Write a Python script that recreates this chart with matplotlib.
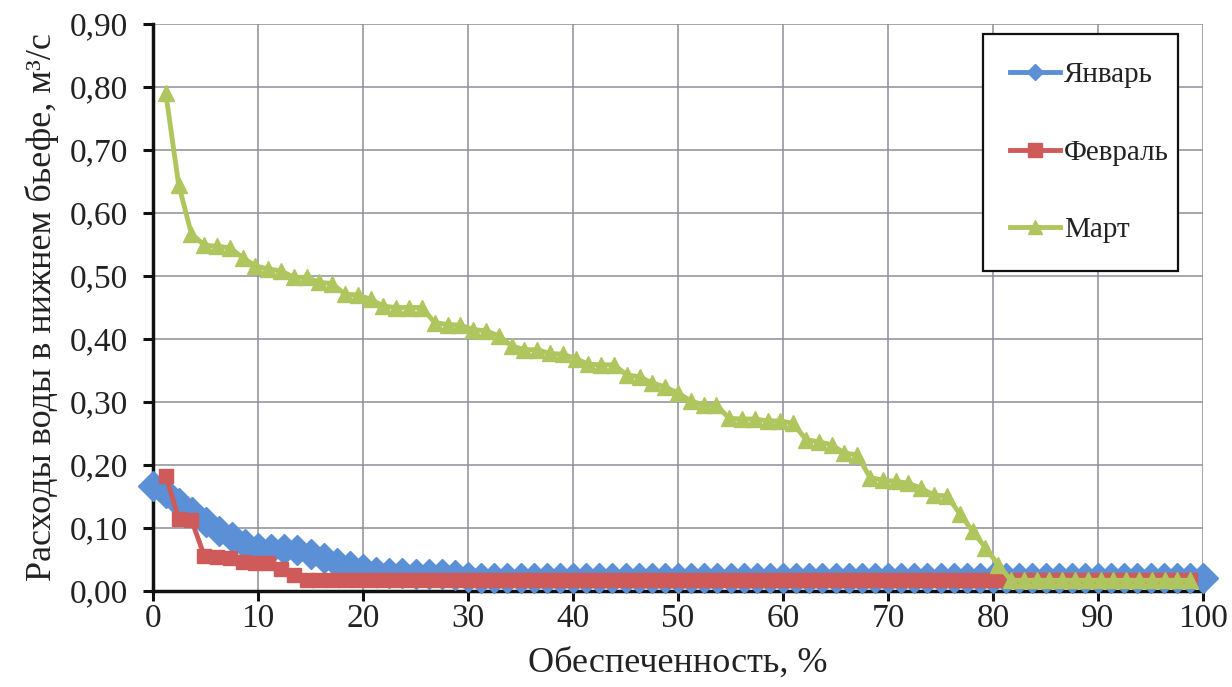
import matplotlib
matplotlib.use("Agg")
import matplotlib.pyplot as plt
from matplotlib.lines import Line2D

plt.rcParams['font.family'] = ['Liberation Serif', 'DejaVu Serif']

# --- data ---
jan_x = [0, 1.25, 2.5, 3.75, 5, 6.25, 7.5, 8.75, 10, 11.25, 12.5, 13.75, 15, 16.25,
         17.5, 18.75, 20, 21.25, 22.5, 23.75, 25, 26.25, 27.5, 28.75, 30, 31.25, 32.5,
         33.75, 35, 36.25, 37.5, 38.75, 40, 41.25, 42.5, 43.75, 45, 46.25, 47.5, 48.75,
         50, 51.25, 52.5, 53.75, 55, 56.25, 57.5, 58.75, 60, 61.25, 62.5, 63.75, 65,
         66.25, 67.5, 68.75, 70, 71.25, 72.5, 73.75, 75, 76.25, 77.5, 78.75, 80, 81.25,
         82.5, 83.75, 85, 86.25, 87.5, 88.75, 90, 91.25, 92.5, 93.75, 95, 96.25, 97.5,
         98.75, 100]
jan_y = [0.166, 0.155, 0.140, 0.125, 0.110, 0.095, 0.085, 0.075, 0.068, 0.066, 0.066,
         0.065, 0.058, 0.052, 0.045, 0.040, 0.035, 0.030, 0.028, 0.028, 0.027, 0.027,
         0.027, 0.026, 0.022,
         0.020, 0.020, 0.020, 0.020, 0.020, 0.020, 0.020, 0.020, 0.020, 0.020, 0.020,
         0.020, 0.020, 0.020, 0.020, 0.020, 0.020, 0.020, 0.020, 0.020, 0.020, 0.020,
         0.020, 0.020, 0.020, 0.020, 0.020, 0.020, 0.020, 0.020, 0.020, 0.020, 0.020,
         0.020, 0.020, 0.020, 0.020, 0.020, 0.020, 0.020, 0.020, 0.020, 0.020, 0.020,
         0.020, 0.020, 0.020, 0.020, 0.020, 0.020, 0.020, 0.020, 0.020, 0.020, 0.020,
         0.020]

fm_x = [1.22, 2.44, 3.66, 4.88, 6.10, 7.32, 8.54, 9.76, 10.98, 12.20, 13.41, 14.63,
        15.85, 17.07, 18.29, 19.51, 20.73, 21.95, 23.17, 24.39, 25.61, 26.83, 28.05,
        29.27, 30.49, 31.71, 32.93, 34.15, 35.37, 36.59, 37.80, 39.02, 40.24, 41.46,
        42.68, 43.90, 45.12, 46.34, 47.56, 48.78, 50.00, 51.22, 52.44, 53.66, 54.88,
        56.10, 57.32, 58.54, 59.76, 60.98, 62.20, 63.41, 64.63, 65.85, 67.07, 68.29,
        69.51, 70.73, 71.95, 73.17, 74.39, 75.61, 76.83, 78.05, 79.27, 80.49, 81.71,
        82.93, 84.15, 85.37, 86.59, 87.80, 89.02, 90.24, 91.46, 92.68, 93.90, 95.12,
        96.34, 97.56, 98.78]
feb_y = [0.183, 0.115, 0.113, 0.056, 0.054, 0.053, 0.046, 0.045, 0.044, 0.035, 0.025,
         0.017, 0.017, 0.017, 0.017, 0.017, 0.017, 0.017, 0.017, 0.017, 0.017, 0.017,
         0.017, 0.017, 0.017, 0.017, 0.017, 0.017, 0.017, 0.017, 0.017, 0.017, 0.017,
         0.017, 0.017, 0.017, 0.017, 0.017, 0.017, 0.017, 0.017, 0.017, 0.017, 0.017,
         0.017, 0.017, 0.017, 0.017, 0.017, 0.017, 0.017, 0.017, 0.017, 0.017, 0.017,
         0.017, 0.017, 0.017, 0.017, 0.017, 0.017, 0.017, 0.017, 0.017, 0.017, 0.017,
         0.017, 0.017, 0.017, 0.017, 0.017, 0.017, 0.017, 0.017, 0.017, 0.017, 0.017,
         0.017, 0.017, 0.017, 0.017]
mar_y = [0.790, 0.645, 0.567, 0.549, 0.547, 0.545, 0.529, 0.516, 0.511, 0.508, 0.498,
         0.498, 0.490, 0.488, 0.471, 0.470, 0.463, 0.452, 0.450, 0.450, 0.450, 0.426,
         0.423, 0.422, 0.415, 0.413, 0.405, 0.389, 0.383, 0.383, 0.377, 0.376, 0.369,
         0.360, 0.359, 0.359, 0.343, 0.340, 0.330, 0.324, 0.314, 0.302, 0.295, 0.295,
         0.274, 0.273, 0.273, 0.270, 0.270, 0.266, 0.240, 0.237, 0.232, 0.219, 0.216,
         0.180, 0.176, 0.174, 0.171, 0.163, 0.152, 0.151, 0.123, 0.095, 0.069, 0.042,
         0.017, 0.017, 0.017, 0.017, 0.017, 0.017, 0.017, 0.017, 0.017, 0.017, 0.017,
         0.017, 0.017, 0.017, 0.017]

series_names = ['Январь', 'Февраль', 'Март']
x_ticks = [0, 10, 20, 30, 40, 50, 60, 70, 80, 90, 100]
y_ticks = [0.0, 0.1, 0.2, 0.3, 0.4, 0.5, 0.6, 0.7, 0.8, 0.9]
x_label = 'Обеспеченность, %'
y_label = 'Расходы воды в нижнем бьефе, м³/с'

c_blue = '#5B8FD6'
c_red = '#CF5A5A'
c_green = '#AFC65E'

fig = plt.figure(figsize=(12.32, 6.87), dpi=100)
ax = fig.add_axes([153/1232, 1 - 591/687, 1050/1232, 567/687])

ax.plot(jan_x, jan_y, color=c_blue, lw=3.5, marker='D', ms=15.5, mec=c_blue,
        clip_on=False, zorder=3)
ax.plot(fm_x, feb_y, color=c_red, lw=3.5, marker='s', ms=10.5, mec=c_red,
        clip_on=False, zorder=3.1)
ax.plot(fm_x, mar_y, color=c_green, lw=3.5, marker='^', ms=11, mec=c_green,
        clip_on=False, zorder=3.2)

ax.set_xlim(0, 100)
ax.set_ylim(0, 0.9)
ax.set_xticks(x_ticks)
ax.set_yticks(y_ticks)
ax.set_xticklabels([str(v) for v in x_ticks])
ax.set_yticklabels([f'{v:.2f}'.replace('.', ',') for v in y_ticks])
ax.grid(True, color='#8e8e9c', lw=1.1)
ax.set_axisbelow(True)
for s in ['top', 'right']:
    ax.spines[s].set_visible(False)
for s in ['left', 'bottom']:
    ax.spines[s].set_linewidth(2.5)
    ax.spines[s].set_color('#111111')
ax.tick_params(axis='both', direction='out', length=7, width=2.2, color='#111111',
               labelsize=24, labelcolor='#222222')
ax.tick_params(axis='y', pad=11)
ax.tick_params(axis='x', pad=2)
ax.set_xlabel(x_label, fontsize=26, color='#222222', labelpad=9)
ax.set_ylabel(y_label, fontsize=26, color='#222222', labelpad=8)

handles = [
    Line2D([], [], color=c_blue, lw=3.5, marker='D', ms=8),
    Line2D([], [], color=c_red, lw=3.5, marker='s', ms=10),
    Line2D([], [], color=c_green, lw=3.5, marker='^', ms=10),
]
leg = ax.legend(handles, series_names, loc='upper left',
                bbox_to_anchor=(0.790, 0.982, 0.186, 0.0), mode='expand',
                fontsize=21, labelspacing=1.75, borderpad=0.95, handlelength=1.7,
                handletextpad=0.15, fancybox=False, framealpha=1, borderaxespad=0)
leg.get_frame().set_edgecolor('#111111')
leg.get_frame().set_linewidth(1.6)
for t in leg.get_texts():
    t.set_color('#222222')

fig.savefig('out.png', dpi=100)
